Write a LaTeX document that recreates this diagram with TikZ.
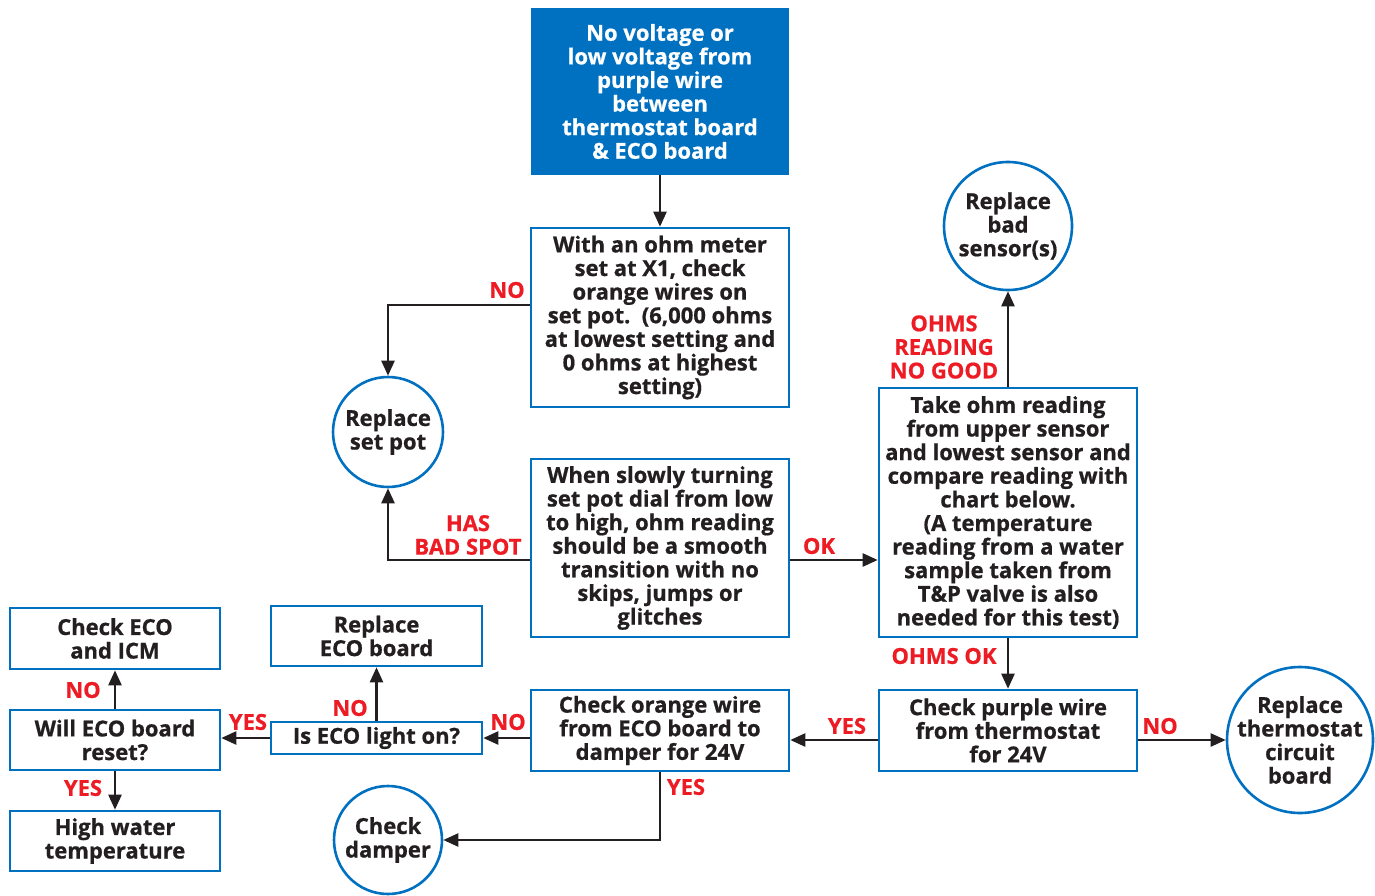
\documentclass[tikz,border=0pt]{standalone}
\usepackage{fontspec}
\setmainfont{Open Sans}[BoldFeatures={FakeBold=0.7}]
\usetikzlibrary{arrows.meta,calc}
\definecolor{bblue}{RGB}{0,112,192}
\definecolor{rred}{RGB}{237,28,36}
\definecolor{ink}{RGB}{35,31,32}
\begin{document}
\begin{tikzpicture}[x=1pt,y=-1pt,
  every node/.style={font=\fontsize{22}{23.6}\selectfont\bfseries, text=ink, align=center, inner sep=0pt},
  box/.style={draw=bblue, line width=2.6pt, minimum width=#1, fill=white},
  topbox/.style={fill=bblue, minimum width=258pt, minimum height=167pt, text=white},
  circ/.style={draw=bblue, line width=2.6pt, circle, minimum size=#1, inner sep=-25pt, fill=white},
  arr/.style={draw=ink, line width=2.4pt, -{Triangle[length=15pt,width=13pt]}},
  lab/.style={text=rred}
]
\useasboundingbox (0,0) rectangle (1375,896);
\node[topbox] (top) at (660,91.5) {No voltage or\\low voltage from\\purple wire\\between\\thermostat board\\\& ECO board};
\node[box=258pt, minimum height=179pt] (ohm) at (660,317.5) {With an ohm meter\\set at X1, check\\orange wires on\\set pot.\ \ (6,000 ohms\\at lowest setting and\\0 ohms at highest\\setting)};
\node[circ=110pt] (setpot) at (388,432) {Replace\\set pot};
\node[box=258pt, minimum height=178pt] (turn) at (660,548) {When slowly turning\\set pot dial from low\\to high, ohm reading\\should be a smooth\\transition with no\\skips, jumps or\\glitches};
\node[box=258pt, minimum height=249pt] (take) at (1008,512.5) {Take ohm reading\\from upper sensor\\and lowest sensor and\\compare reading with\\chart below.\\(A temperature\\reading from a water\\sample taken from\\T\&P valve is also\\needed for this test)};
\node[circ=128pt] (sensor) at (1008,226) {Replace\\bad\\sensor(s)};
\node[box=258pt, minimum height=81pt] (purple) at (1008,730.5) {Check purple wire\\from thermostat\\for 24V};
\node[circ=146pt] (thermo) at (1300,740) {Replace\\thermostat\\circuit\\board};
\node[box=258pt, minimum height=81pt] (orange) at (660,730.5) {Check orange wire\\from ECO board to\\damper for 24V};
\node[box=211pt, minimum height=32pt] (light) at (376.5,738) {Is ECO light on?};
\node[box=211pt, minimum height=60pt] (repeco) at (376.5,636) {Replace\\ECO board};
\node[box=210pt, minimum height=61pt] (checkeco) at (115,638.5) {Check ECO\\and ICM};
\node[box=210pt, minimum height=60pt] (reset) at (115,740) {Will ECO board\\reset?};
\node[box=210pt, minimum height=60pt] (high) at (115,841) {High water\\temperature};
\node[circ=108pt] (damper) at (388,840) {Check\\damper};

\draw[arr] (top.south) -- (ohm.north);
\draw[arr] ([yshift=12.5pt]ohm.west) -| (setpot.north);
\draw[arr] ([yshift=-12pt]turn.west) -| (setpot.south);
\draw[arr] ([yshift=-12pt]turn.east) coordinate (okp) -- (okp -| take.west);
\draw[arr] (take.north) -- (sensor.south);
\draw[arr] (take.south) -- (purple.north);
\draw[arr] (thermo.west -| purple.east) -- (thermo.west);
\draw[arr] ([yshift=-9.5pt]purple.west) -- ([yshift=-9.5pt]orange.east);
\draw[arr] (light.east -| orange.west) -- (light.east);
\draw[arr] (orange.south) |- (damper.east);
\draw[arr] (light.north) -- (repeco.south);
\draw[arr] (light.west) -- (light.west -| reset.east);
\draw[arr] (reset.north) -- (checkeco.south);
\draw[arr] (reset.south) -- (high.north);

\node[lab] (l1) at (507,290) {NO};
\node[lab] (l2) at (468,535) {HAS\\BAD SPOT};
\node[lab] (l3) at (819,546) {OK};
\node[lab] (l4) at (944,347) {OHMS\\READING\\NO GOOD};
\node[lab] (l5) at (944,656) {OHMS OK};
\node[lab] (l6) at (1160,726) {NO};
\node[lab] (l7) at (847,726) {YES};
\node[lab] (l8) at (508,722) {NO};
\node[lab] (l9) at (686,787) {YES};
\node[lab] (l10) at (350,708) {NO};
\node[lab] (l11) at (248,722) {YES};
\node[lab] (l12) at (83,690) {NO};
\node[lab] (l13) at (83,788) {YES};
\end{tikzpicture}
\end{document}
